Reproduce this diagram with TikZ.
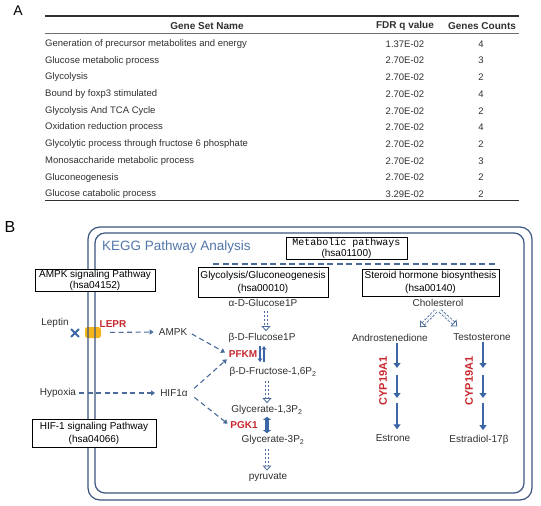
\documentclass[tikz,border=0pt]{standalone}
\usepackage{fontspec}
\setmainfont{Liberation Sans}
\setmonofont{Liberation Mono}
\usetikzlibrary{arrows.meta,shapes.misc}

\definecolor{kblue}{HTML}{4A6A9A}
\definecolor{sblue}{HTML}{3D66A6}
\definecolor{kframe}{HTML}{3A5580}
\definecolor{keggtxt}{HTML}{5176AA}
\definecolor{enzred}{HTML}{C8282E}
\definecolor{lepryel}{HTML}{F4B41A}
\definecolor{tabgray}{HTML}{303030}

\begin{document}
\begin{tikzpicture}[x=1pt,y=-1pt]
  \tikzstyle{rowname}=[anchor=west,inner sep=0pt,text=tabgray,font=\fontsize{9.5}{11}\selectfont]
  \tikzstyle{rowval}=[inner sep=0pt,text=tabgray,font=\fontsize{9.5}{11}\selectfont]
  \tikzstyle{rowhead}=[inner sep=0pt,text=tabgray,font=\fontsize{10}{12}\selectfont\bfseries]
  \tikzstyle{metab}=[inner sep=1pt,text=tabgray,font=\fontsize{10}{12}\selectfont]
  \tikzstyle{enzyme}=[inner sep=1pt,text=enzred,font=\fontsize{10}{12}\selectfont\bfseries]
  \tikzstyle{pathbox}=[draw,fill=white,line width=0.9pt,align=center,inner sep=0pt]
  \tikzstyle{dasharrow}=[draw=kblue,line width=1.1pt,dash pattern=on 5pt off 3.5pt,-{Triangle[length=4pt,width=5pt]}]
  \tikzstyle{hollowarrow}=[draw=kblue,line width=0.8pt,dash pattern=on 2.5pt off 1.5pt,double=white,double distance=2.4pt,-{Triangle[open,length=5pt,width=9pt]}]
  \tikzstyle{solidarrow}=[draw=sblue,line width=1.5pt,-{Triangle[length=5pt,width=7pt]}]
  \useasboundingbox (0,0) rectangle (541,506);

  % panel A: table
  \node[font=\fontsize{14}{14}\selectfont] (A) at (18,11) {A};
  \draw[tabgray,line width=1.2pt] (45,16) -- (519,16);
  \node[rowhead] (h_name) at (207,26) {Gene Set Name};
  \node[rowhead] (h_fdr) at (405,26) {FDR q value};
  \node[rowhead] (h_cnt) at (482,26) {Genes Counts};
  \draw[tabgray!70,line width=0.5pt] (45,33) -- (519,33);
  \node[rowname] (r_1) at (45,44) {Generation of precursor metabolites and energy};
  \node[rowval] (q_1) at (405,44) {1.37E-02}; \node[rowval] (n_1) at (481,44) {4};
  \node[rowname] (r_2) at (45,60.7) {Glucose metabolic process};
  \node[rowval] (q_2) at (405,60.7) {2.70E-02}; \node[rowval] (n_2) at (481,60.7) {3};
  \node[rowname] (r_3) at (45,77.4) {Glycolysis};
  \node[rowval] (q_3) at (405,77.4) {2.70E-02}; \node[rowval] (n_3) at (481,77.4) {2};
  \node[rowname] (r_4) at (45,94.1) {Bound by foxp3 stimulated};
  \node[rowval] (q_4) at (405,94.1) {2.70E-02}; \node[rowval] (n_4) at (481,94.1) {4};
  \node[rowname] (r_5) at (45,110.8) {Glycolysis And TCA Cycle};
  \node[rowval] (q_5) at (405,110.8) {2.70E-02}; \node[rowval] (n_5) at (481,110.8) {2};
  \node[rowname] (r_6) at (45,127.5) {Oxidation reduction process};
  \node[rowval] (q_6) at (405,127.5) {2.70E-02}; \node[rowval] (n_6) at (481,127.5) {4};
  \node[rowname] (r_7) at (45,144.2) {Glycolytic process through fructose 6 phosphate};
  \node[rowval] (q_7) at (405,144.2) {2.70E-02}; \node[rowval] (n_7) at (481,144.2) {2};
  \node[rowname] (r_8) at (45,160.9) {Monosaccharide metabolic process};
  \node[rowval] (q_8) at (405,160.9) {2.70E-02}; \node[rowval] (n_8) at (481,160.9) {3};
  \node[rowname] (r_9) at (45,177.6) {Gluconeogenesis};
  \node[rowval] (q_9) at (405,177.6) {2.70E-02}; \node[rowval] (n_9) at (481,177.6) {2};
  \node[rowname] (r_10) at (45,194.3) {Glucose catabolic process};
  \node[rowval] (q_10) at (405,194.3) {3.29E-02}; \node[rowval] (n_10) at (481,194.3) {2};
  \draw[tabgray,line width=1pt] (45,200.5) -- (519,200.5);

  % panel B: KEGG pathways
  \node[font=\fontsize{16}{16}\selectfont] (B) at (10,227) {B};
  \node[fill=lepryel,rounded corners=2.5pt,minimum width=16pt,minimum height=11pt,inner sep=0pt] (lepr) at (93,332.5) {};
  \draw[kframe,line width=1.2pt,rounded corners=12pt] (88,227) rectangle (532,500);
  \draw[kframe,line width=1.2pt,rounded corners=10pt] (95,233) rectangle (524,493);
  \node[anchor=west,inner sep=0pt,text=keggtxt,font=\fontsize{13.5}{14}\selectfont] (kegg) at (102,247) {KEGG Pathway Analysis};
  \node[pathbox,minimum width=121pt,minimum height=22pt,font=\fontsize{10}{11}\selectfont] (metabolic) at (346.5,248) {{\ttfamily Metabolic pathways}\\(hsa01100)};
  \draw[kblue,line width=1.1pt,dash pattern=on 6pt off 3.5pt] (213,264) -- (497,264);
  \node[pathbox,minimum width=130pt,minimum height=30pt,font=\fontsize{10}{13}\selectfont] (glycobox) at (263,282) {Glycolysis/Gluconeogenesis\\(hsa00010)};
  \node[pathbox,minimum width=137pt,minimum height=27pt,font=\fontsize{10}{13.5}\selectfont] (steroidbox) at (430.5,282.5) {Steroid hormone biosynthesis\\(hsa00140)};
  \node[pathbox,minimum width=120pt,minimum height=22pt,font=\fontsize{10}{11}\selectfont] (ampkbox) at (95,280) {AMPK signaling Pathway\\(hsa04152)};
  \node[pathbox,minimum width=124pt,minimum height=28pt,font=\fontsize{10}{13}\selectfont] (hifbox) at (94,433) {HIF-1 signaling Pathway\\(hsa04066)};

  % glycolysis column
  \node[metab] (glc1p) at (263,303) {α-D-Glucose1P};
  \node[metab] (flc1p) at (262,338) {β-D-Flucose1P};
  \node[enzyme] (pfkm) at (243,354) {PFKM};
  \node[metab] (f16p) at (273,372) {β-D-Fructose-1,6P\textsubscript{2}};
  \node[metab] (g13p) at (267,410) {Glycerate-1,3P\textsubscript{2}};
  \node[enzyme] (pgk1) at (244,425) {PGK1};
  \node[metab] (g3p) at (273,440) {Glycerate-3P\textsubscript{2}};
  \node[metab] (pyr) at (268,477) {pyruvate};
  \draw[hollowarrow,shorten <=3pt,shorten >=1pt] ([xshift=3pt]glc1p.south) -- ([xshift=4pt]flc1p.north);
  \draw[sblue,line width=1.2pt,-{Stealth[length=4pt,width=5pt]}] ([xshift=-2pt,yshift=-2pt]flc1p.south) -- ([xshift=-2pt,yshift=4pt]flc1p.south |- f16p.north);
  \draw[sblue,line width=1.2pt,-{Stealth[length=4pt,width=5pt]}] ([xshift=2pt,yshift=4pt]flc1p.south |- f16p.north) -- ([xshift=2pt,yshift=-2pt]flc1p.south);
  \draw[hollowarrow,shorten <=3pt,shorten >=1pt] (f16p.south -| g13p) -- (g13p.north);
  \draw[sblue,line width=4pt,{Triangle[length=3pt,width=8pt]}-{Triangle[length=3pt,width=8pt]}] ([yshift=-1pt]g13p.south) -- ([yshift=1pt]g3p.north -| g13p);
  \draw[hollowarrow,shorten <=3pt,shorten >=1pt] (g3p.south -| g13p) -- (g13p |- pyr.north);

  % AMPK / HIF-1 signalling
  \node[metab] (leptin) at (55,323) {Leptin};
  \node[cross out,draw=sblue,line width=1.8pt,minimum size=6pt,inner sep=0pt] (lepx) at (75,333) {};
  \node[enzyme] (leprtxt) at (113,324) {LEPR};
  \node[metab] (ampk) at (173,332) {AMPK};
  \node[metab] (hypoxia) at (58,393) {Hypoxia};
  \node[metab] (hif) at (174,393) {HIF1α};
  \draw[dasharrow,shorten <=9pt,shorten >=4pt] (lepr.east) -- (ampk.west);
  \draw[dasharrow,shorten <=4pt,shorten >=3pt] (ampk.east) -- (pfkm.west);
  \draw[dasharrow,shorten <=2pt,shorten >=4pt] (hypoxia.east) -- (hif.west);
  \draw[dasharrow,shorten <=7pt,shorten >=1pt] (hif.east) -- (pfkm.south west);
  \draw[dasharrow,shorten <=7pt,shorten >=2pt] (hif.east) -- (pgk1.west);

  % steroid hormone column
  \node[metab] (chol) at (438,303) {Cholesterol};
  \node[metab] (andro) at (390,338) {Androstenedione};
  \node[metab] (testo) at (482,337) {Testosterone};
  \node[metab] (estrone) at (393,438) {Estrone};
  \node[metab] (estradiol) at (479,440) {Estradiol-17β};
  \node[enzyme,rotate=90,font=\fontsize{11}{12}\selectfont\bfseries] (cyp_a) at (383,381) {CYP19A1};
  \node[enzyme,rotate=90,font=\fontsize{11}{12}\selectfont\bfseries] (cyp_t) at (469,381) {CYP19A1};
  \draw[hollowarrow] ([xshift=-2pt,yshift=-3pt]chol.south) -- ([xshift=-9pt,yshift=6pt]andro.north east);
  \draw[hollowarrow] ([xshift=2pt,yshift=-3pt]chol.south) -- ([xshift=5pt,yshift=6pt]testo.north west);
  \coordinate (a_1) at (397,371.5);
  \coordinate (a_2) at (397,400.5);
  \coordinate (t_1) at (483,371.5);
  \coordinate (t_2) at (483,400.5);
  \draw[solidarrow,shorten >=3.5pt] (andro.south -| a_1) -- (a_1);
  \draw[solidarrow,shorten <=3.5pt,shorten >=2.5pt] (a_1) -- (a_2);
  \draw[solidarrow,shorten <=2.5pt,shorten >=4pt] (a_2) -- (a_2 |- estrone.north);
  \draw[solidarrow,shorten >=3.5pt] (testo.south -| t_1) -- (t_1);
  \draw[solidarrow,shorten <=3.5pt,shorten >=2.5pt] (t_1) -- (t_2);
  \draw[solidarrow,shorten <=2.5pt,shorten >=4pt] (t_2) -- (t_2 |- estradiol.north);
\end{tikzpicture}
\end{document}
